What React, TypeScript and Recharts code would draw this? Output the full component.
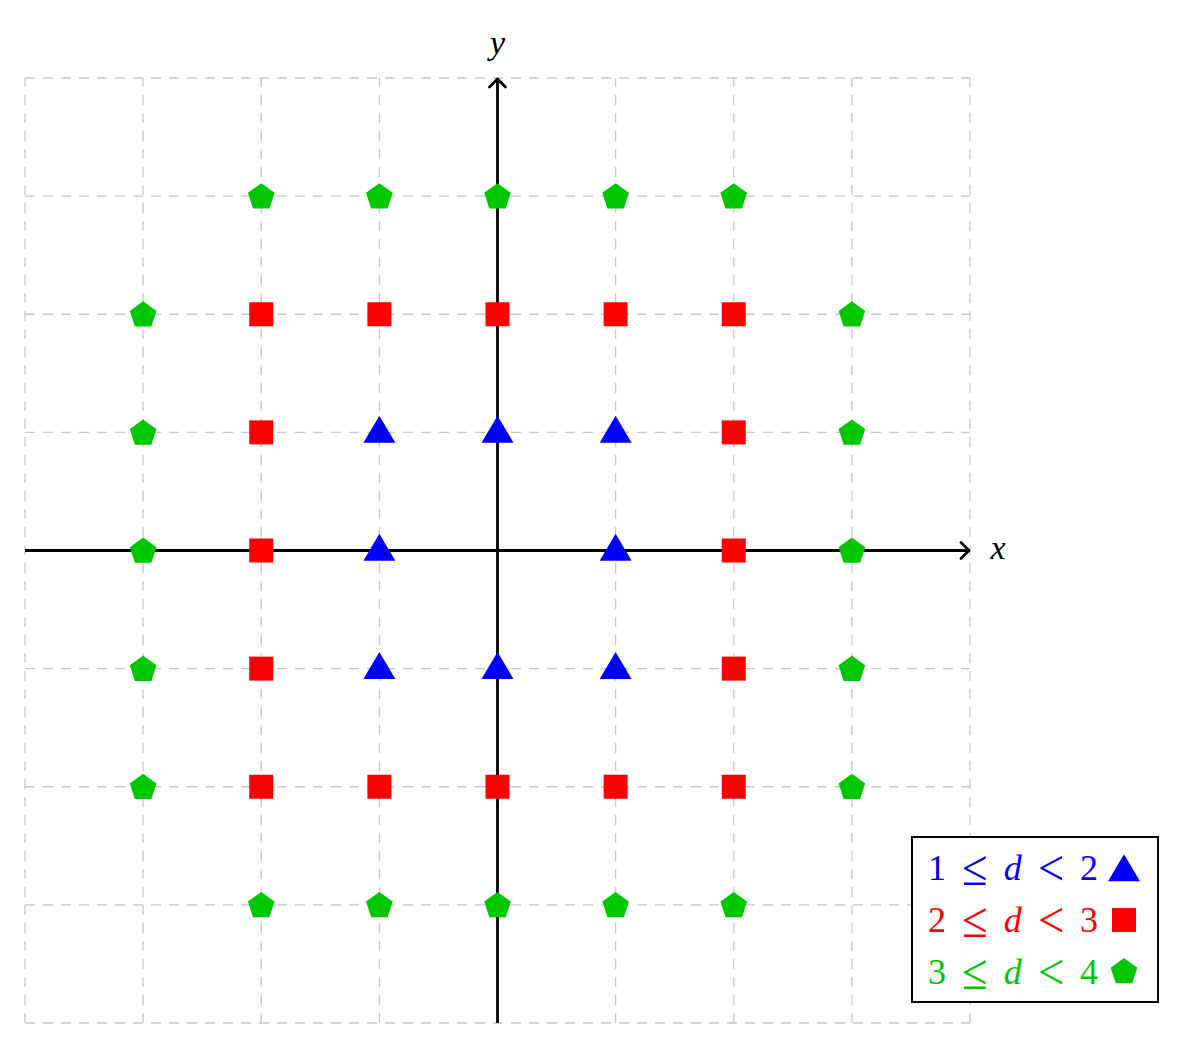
import { ReferenceDot, ReferenceLine, Scatter, ScatterChart, XAxis, YAxis } from "recharts"

const gridTicks = [-4, -3, -2, -1, 0, 1, 2, 3, 4]

const blueTriangles = [
  { x: -1, y: 1 }, { x: 0, y: 1 }, { x: 1, y: 1 },
  { x: -1, y: 0 }, { x: 1, y: 0 },
  { x: -1, y: -1 }, { x: 0, y: -1 }, { x: 1, y: -1 },
]

const redSquares = [
  { x: -2, y: 2 }, { x: -1, y: 2 }, { x: 0, y: 2 }, { x: 1, y: 2 }, { x: 2, y: 2 },
  { x: -2, y: 1 }, { x: 2, y: 1 },
  { x: -2, y: 0 }, { x: 2, y: 0 },
  { x: -2, y: -1 }, { x: 2, y: -1 },
  { x: -2, y: -2 }, { x: -1, y: -2 }, { x: 0, y: -2 }, { x: 1, y: -2 }, { x: 2, y: -2 },
]

const greenPentagons = [
  { x: -2, y: 3 }, { x: -1, y: 3 }, { x: 0, y: 3 }, { x: 1, y: 3 }, { x: 2, y: 3 },
  { x: -3, y: 2 }, { x: 3, y: 2 },
  { x: -3, y: 1 }, { x: 3, y: 1 },
  { x: -3, y: 0 }, { x: 3, y: 0 },
  { x: -3, y: -1 }, { x: 3, y: -1 },
  { x: -3, y: -2 }, { x: 3, y: -2 },
  { x: -2, y: -3 }, { x: -1, y: -3 }, { x: 0, y: -3 }, { x: 1, y: -3 }, { x: 2, y: -3 },
]

const BLUE = "#0000ff"
const RED = "#ff0000"
const GREEN = "#00c800"

const legendRows = [
  { lo: "1", hi: "2", color: BLUE, mark: "triangle" },
  { lo: "2", hi: "3", color: RED, mark: "square" },
  { lo: "3", hi: "4", color: GREEN, mark: "pentagon" },
]

function Triangle({ cx, cy, fill }: any) {
  const w = 16, h = 27
  return <polygon points={`${cx},${cy - h * 0.62} ${cx - w},${cy + h * 0.38} ${cx + w},${cy + h * 0.38}`} fill={fill} />
}

function Square({ cx, cy, fill }: any) {
  return <rect x={cx - 12} y={cy - 12} width={24} height={24} fill={fill} />
}

function pentagonPoints(cx: number, cy: number, r: number) {
  const pts: string[] = []
  for (let i = 0; i < 5; i++) {
    const a = -Math.PI / 2 + (i * 2 * Math.PI) / 5
    pts.push(`${cx + r * Math.cos(a)},${cy + r * Math.sin(a)}`)
  }
  return pts.join(" ")
}

function Pentagon({ cx, cy, fill }: any) {
  return <polygon points={pentagonPoints(cx, cy + 1, 14)} fill={fill} />
}

function ArrowUp({ cx, cy }: any) {
  return (
    <g>
      <path d={`M${cx - 8},${cy + 9} L${cx},${cy + 1} L${cx + 8},${cy + 9}`} fill="none" stroke="#000" strokeWidth={2.8} strokeLinecap="round" strokeLinejoin="round" />
      <text x={cx} y={cy - 24} textAnchor="middle" fontFamily="'Liberation Serif', serif" fontStyle="italic" fontSize={34}>y</text>
    </g>
  )
}

function ArrowRight({ cx, cy }: any) {
  return (
    <g>
      <path d={`M${cx - 9},${cy - 8} L${cx - 1},${cy} L${cx - 9},${cy + 8}`} fill="none" stroke="#000" strokeWidth={2.8} strokeLinecap="round" strokeLinejoin="round" />
      <text x={cx + 28} y={cy + 8} textAnchor="middle" fontFamily="'Liberation Serif', serif" fontStyle="italic" fontSize={34}>x</text>
    </g>
  )
}

const rel = { display: "inline-block", transform: "scale(1.3, 1.4)", margin: "0 19px" }

function LegendBox() {
  return (
    <div style={{ position: "absolute", left: 911, top: 836, width: 244, height: 159, border: "2px solid #000", background: "#fff", boxSizing: "content-box", fontFamily: "'Liberation Serif', serif", fontSize: 36, lineHeight: "52px", paddingTop: 4 }}>
      {legendRows.map((r) => (
        <div key={r.lo} style={{ color: r.color, display: "flex", alignItems: "center", whiteSpace: "nowrap", paddingLeft: 15, height: 52 }}>
          <span>
            {r.lo}<span style={rel}>≤</span><i>d</i><span style={rel}>&lt;</span>{r.hi}
          </span>
          <svg width={36} height={36} style={{ marginLeft: 8 }}>
            {r.mark === "triangle" && <Triangle cx={18} cy={21} fill={r.color} />}
            {r.mark === "square" && <Square cx={18} cy={18} fill={r.color} />}
            {r.mark === "pentagon" && <Pentagon cx={18} cy={17} fill={r.color} />}
          </svg>
        </div>
      ))}
    </div>
  )
}

export default function App() {
  return (
    <div style={{ position: "absolute", left: 0, top: 0, width: 1182, height: 1049, background: "#fff" }}>
      <ScatterChart width={1182} height={1049} margin={{ top: 78, right: 212, bottom: 26, left: 25 }}>
        <XAxis type="number" dataKey="x" domain={[-4, 4]} ticks={gridTicks} hide />
        <YAxis type="number" dataKey="y" domain={[-4, 4]} ticks={gridTicks} hide />
        {gridTicks.map((t) => (
          <ReferenceLine key={`gx${t}`} x={t} stroke="#c8c8c8" strokeWidth={1.3} strokeDasharray="10 8" />
        ))}
        {gridTicks.map((t) => (
          <ReferenceLine key={`gy${t}`} y={t} stroke="#c8c8c8" strokeWidth={1.3} strokeDasharray="10 8" />
        ))}
        <ReferenceLine segment={[{ x: -4, y: 0 }, { x: 4, y: 0 }]} stroke="#000" strokeWidth={2.8} />
        <ReferenceLine segment={[{ x: 0, y: -4 }, { x: 0, y: 4 }]} stroke="#000" strokeWidth={2.8} />
        <ReferenceDot x={0} y={4} r={0} shape={(p: any) => <ArrowUp {...p} />} />
        <ReferenceDot x={4} y={0} r={0} shape={(p: any) => <ArrowRight {...p} />} />
        <Scatter name="1 ≤ d < 2" data={blueTriangles} fill={BLUE} shape={(p: any) => <Triangle {...p} />} isAnimationActive={false} />
        <Scatter name="2 ≤ d < 3" data={redSquares} fill={RED} shape={(p: any) => <Square {...p} />} isAnimationActive={false} />
        <Scatter name="3 ≤ d < 4" data={greenPentagons} fill={GREEN} shape={(p: any) => <Pentagon {...p} />} isAnimationActive={false} />
      </ScatterChart>
      <LegendBox />
    </div>
  )
}
